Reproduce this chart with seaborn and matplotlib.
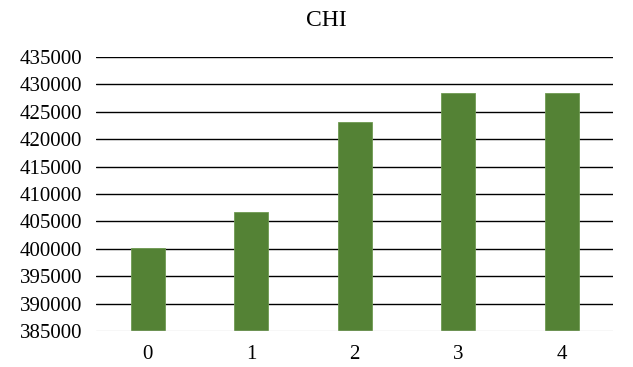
import matplotlib
matplotlib.use("Agg")
import matplotlib.pyplot as plt
import seaborn as sns
import pandas as pd

categories = ["0", "1", "2", "3", "4"]
values = [400100, 406800, 423200, 428400, 428400]
yticks = list(range(385000, 435001, 5000))

sns.set_theme(style="white")
plt.rcParams['font.family'] = ['Liberation Serif', 'DejaVu Serif']

df = pd.DataFrame({"cat": categories, "val": values})

fig = plt.figure(figsize=(6.33, 3.67), dpi=100)
ax = fig.add_axes([0.152, 0.098, 0.817, 0.747])
sns.barplot(data=df, x="cat", y="val", color="#548235", saturation=1,
            width=0.33, ax=ax, edgecolor="#6f9a52", linewidth=0.6)

ax.set_ylim(385000, 435000)
ax.set_yticks(yticks)
ax.set_yticklabels([str(t) for t in yticks], fontsize=15, color="#000000")
ax.tick_params(axis='x', labelsize=15, colors="#000000", length=0, pad=10)
ax.tick_params(axis='y', length=0, pad=10)
for t in yticks[1:]:
    ax.axhline(t, color="#000000", linewidth=1.0, zorder=0)
ax.axhline(385000, color="#d9d9d9", linewidth=1.0, zorder=3)
for s in ax.spines.values():
    s.set_visible(False)
ax.set_xlabel("")
ax.set_ylabel("")
fig.text(326 / 633, 1 - 20 / 367, "CHI", fontsize=17, color="#000000",
         ha="center", va="center")

fig.savefig("out.png", dpi=100)
